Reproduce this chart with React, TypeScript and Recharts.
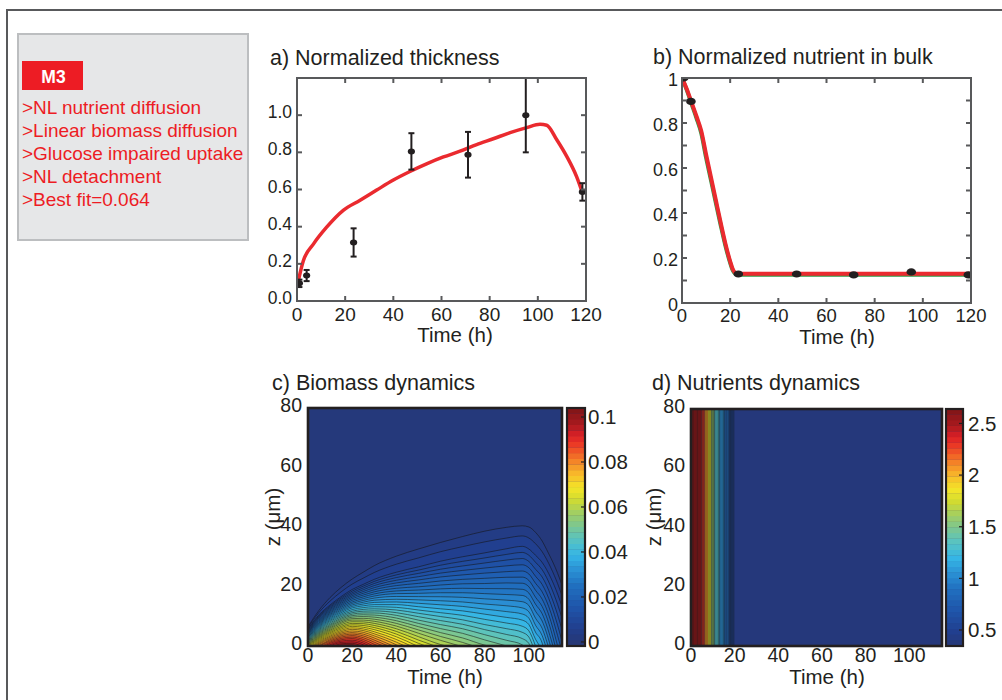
import React from 'react';
import {
  ComposedChart, Line, Area, Scatter, XAxis, YAxis, ErrorBar,
  ReferenceArea, ReferenceLine, CartesianGrid,
} from 'recharts';

const FONT = '"Liberation Sans", Arial, Helvetica, sans-serif';
const INK = '#231f20';
const AXIS_GRAY = '#58595b';
const RED = '#ed1c24';
const LINE_RED = '#ea2a2f';
const LINE_GREEN = '#2f9a45';
const CONTOUR_INK = '#141414';

// ---------------- texts ----------------
const modelName = 'M3';
const modelNotes = ['>NL nutrient diffusion', '>Linear biomass diffusion', '>Glucose impaired uptake', '>NL detachment', '>Best fit=0.064'];
const titleA = 'a) Normalized thickness';
const titleB = 'b) Normalized nutrient in bulk';
const titleC = 'c) Biomass dynamics';
const titleD = 'd) Nutrients dynamics';
const timeLabel = 'Time (h)';
const depthLabel = 'z (\u03bcm)';

// ---------------- panel a : normalized thickness ----------------
const thicknessObsTimes = [1, 4, 23.5, 47.5, 71, 95, 118.5];
const thicknessObsMeans = [0.095, 0.137, 0.315, 0.805, 0.787, 1.0, 0.587];
const thicknessObsErrors = [0.02, 0.03, 0.076, 0.098, 0.123, 0.2, 0.047];
const thicknessFitTimes = [0.5, 2.6, 6.8, 12.3, 19.2, 26.2, 33.1, 40, 46.9, 53.8, 60.8, 67.7, 74.6, 81.5, 88.5, 95.4, 100.9, 103.7, 107.8, 112, 116.1, 118.6];
const thicknessFitValues = [0.106, 0.215, 0.306, 0.397, 0.488, 0.542, 0.597, 0.651, 0.697, 0.738, 0.775, 0.806, 0.842, 0.873, 0.906, 0.933, 0.951, 0.946, 0.869, 0.778, 0.669, 0.579];
const thicknessXTicks = [0, 20, 40, 60, 80, 100, 120];
const thicknessYTicks = [0, 0.2, 0.4, 0.6, 0.8, 1.0];

// ---------------- panel b : normalized nutrient in bulk ----------------
const bulkObsTimes = [0.7, 3.7, 23.4, 47.6, 71.3, 95.2, 118.9];
const bulkObsMeans = [1.0, 0.896, 0.129, 0.129, 0.125, 0.138, 0.125];
const bulkFitTimes = [0, 2, 4, 6, 8, 10, 12, 14, 16, 18, 20, 21, 22, 23, 40, 60, 80, 100, 120];
const bulkFitValues = [1.0, 0.95, 0.89, 0.83, 0.765, 0.66, 0.56, 0.46, 0.36, 0.265, 0.185, 0.152, 0.135, 0.13, 0.13, 0.13, 0.13, 0.13, 0.13];
const bulkAltValues = [1.0, 0.946, 0.884, 0.822, 0.754, 0.646, 0.547, 0.447, 0.349, 0.256, 0.178, 0.147, 0.131, 0.126, 0.126, 0.126, 0.126, 0.126, 0.126];
const bulkXTicks = [0, 20, 40, 60, 80, 100, 120];
const bulkYTicks = [0, 0.1, 0.2, 0.3, 0.4, 0.5, 0.6, 0.7, 0.8, 0.9, 1];

// ---------------- panel c : biomass contours (t [h], z [um]) ----------------
const biomassLevels = [
  0.0025, 0.005, 0.0075, 0.01, 0.0125, 0.015, 0.0175, 0.02, 0.0225, 0.025,
  0.0275, 0.03, 0.0325, 0.035, 0.0375, 0.04, 0.0425, 0.045, 0.0475, 0.05,
  0.0525, 0.055, 0.0575, 0.06, 0.0625, 0.065, 0.0675, 0.07, 0.0725, 0.075,
  0.0775, 0.08, 0.0825, 0.085, 0.0875, 0.09, 0.0925, 0.095, 0.0975,
];
const contour0025 = [[0, 6.5], [5, 12], [10, 16.3], [15, 19.7], [20, 22.5], [25, 24.8], [30, 27], [40, 30.2], [50, 32.6], [60, 34.8], [70, 36.8], [80, 38.6], [90, 39.9], [97, 40.4], [100, 40], [103, 38.2], [106, 35.3], [108, 32.5], [110, 29.5], [112, 26.3], [114, 22.5], [115, 20.5]];
const contour0050 = [[0, 6.2], [5, 11.3], [10, 15.1], [15, 18.2], [20, 20.8], [25, 22.8], [30, 24.7], [40, 27.5], [50, 29.6], [60, 31.7], [70, 33.4], [80, 35], [90, 36.3], [97, 37], [100, 36.3], [103, 34.4], [106, 31.7], [110, 26.2], [113, 21], [115, 16.9]];
const contour0075 = [[0, 5.8], [5, 10.5], [10, 13.8], [15, 16.6], [20, 19], [25, 20.7], [30, 22.4], [40, 24.8], [50, 26.6], [60, 28.5], [70, 30], [80, 31.3], [90, 32.7], [97, 33.5], [100, 32.6], [103, 30.5], [106, 28.1], [110, 22.8], [113, 17.5], [115, 13.3]];
const contour0100 = [[0, 5.55], [5, 10.15], [10, 13.4], [15, 16.15], [20, 18.45], [25, 20.1], [30, 21.7], [40, 23.9], [50, 25.5], [60, 27.15], [70, 28.45], [80, 29.6], [90, 30.8], [97, 31.45], [100, 30.5], [103, 28.15], [106, 25.65], [110, 19.85], [113, 14], [115, 9.4]];
const contour0125 = [[0, 5.3], [5, 9.8], [10, 13], [15, 15.7], [20, 17.9], [25, 19.5], [30, 21], [40, 23], [50, 24.4], [60, 25.8], [70, 26.9], [80, 27.9], [90, 28.9], [97, 29.4], [100, 28.4], [103, 25.8], [106, 23.2], [110, 16.9], [113, 10.5], [115, 5.5]];
const contour0150 = [[0, 5.05], [5, 9.4], [10, 12.6], [15, 15.25], [20, 17.4], [25, 18.9], [30, 20.3], [40, 22.1], [50, 23.3], [60, 24.5], [70, 25.4], [80, 26.2], [90, 26.95], [97, 27.3], [100, 26.3], [103, 23.45], [106, 20.7], [110, 14], [113, 7], [115, 1.6]];
const contour0175 = [[0, 4.8], [5, 9], [10, 12.2], [15, 14.8], [20, 16.9], [25, 18.3], [30, 19.6], [40, 21.2], [50, 22.2], [60, 23.2], [70, 23.9], [80, 24.5], [90, 25], [97, 25.2], [100, 24.2], [103, 21.1], [106, 18.2], [110, 11.1], [113, 3.5], [114.3, 0]];
const contour0200 = [[0, 4.55], [5, 8.65], [10, 11.8], [15, 14.35], [20, 16.4], [25, 17.7], [30, 18.9], [40, 20.3], [50, 21.05], [60, 21.85], [70, 22.4], [80, 22.75], [90, 23.1], [97, 23.15], [100, 22.05], [103, 18.75], [106, 15.75], [110, 8.2], [113, 0]];
const contour0225 = [[0, 4.3], [5, 8.3], [10, 11.4], [15, 13.9], [20, 15.9], [25, 17.1], [30, 18.2], [40, 19.4], [50, 19.9], [60, 20.5], [70, 20.9], [80, 21], [90, 21.2], [97, 21.1], [100, 19.9], [103, 16.4], [106, 13.3], [110, 5.3], [111.9, 0]];
const contour0250 = [[0, 4.05], [5, 7.95], [10, 11], [15, 13.45], [20, 15.35], [25, 16.5], [30, 17.5], [40, 18.5], [50, 18.8], [60, 19.2], [70, 19.4], [80, 19.3], [90, 19.25], [97, 19.05], [100, 17.8], [103, 14.05], [106, 10.85], [110, 2.3], [110.9, 0]];
const contour0275 = [[0, 3.8], [5, 7.6], [10, 10.6], [15, 13], [20, 14.8], [25, 15.9], [30, 16.8], [40, 17.6], [50, 17.7], [60, 17.9], [70, 17.9], [80, 17.6], [90, 17.3], [97, 17], [100, 15.7], [103, 11.7], [106, 8.4], [109.8, 0]];
const contour0300 = [[0, 3.55], [5, 7.25], [10, 10.2], [15, 12.55], [20, 14.3], [25, 15.3], [30, 16.1], [40, 16.65], [50, 16.6], [60, 16.55], [70, 16.35], [80, 15.85], [90, 15.4], [97, 14.9], [100, 13.6], [103, 9.35], [106, 5.95], [108.7, 0]];
const contour0325 = [[0, 3.3], [5, 6.9], [10, 9.8], [15, 12.1], [20, 13.8], [25, 14.7], [30, 15.4], [40, 15.7], [50, 15.5], [60, 15.2], [70, 14.8], [80, 14.1], [90, 13.5], [97, 12.8], [100, 11.5], [103, 7], [106, 3.5], [107.6, 0]];
const contour0350 = [[0, 3.05], [5, 6.55], [10, 9.4], [15, 11.65], [20, 13.3], [25, 14.1], [30, 14.65], [40, 14.8], [50, 14.35], [60, 13.85], [70, 13.3], [80, 12.4], [90, 11.55], [97, 10.75], [100, 9.35], [103, 4.65], [106, 1], [106.4, 0]];
const contour0375 = [[0, 2.8], [5, 6.2], [10, 9], [15, 11.2], [20, 12.8], [25, 13.5], [30, 13.9], [40, 13.9], [50, 13.2], [60, 12.5], [70, 11.8], [80, 10.7], [90, 9.6], [97, 8.7], [100, 7.2], [103, 2.3], [104.9, 0]];
const contour0400 = [[0, 2.55], [5, 5.85], [10, 8.6], [15, 10.75], [20, 12.25], [25, 12.9], [30, 13.2], [40, 13], [50, 12.1], [60, 11.2], [70, 10.3], [80, 8.95], [90, 7.7], [97, 6.65], [100, 5.1], [103, 0]];
const contour0425 = [[0, 2.3], [5, 5.5], [10, 8.2], [15, 10.3], [20, 11.7], [25, 12.3], [30, 12.5], [40, 12.1], [50, 11], [60, 9.9], [70, 8.8], [80, 7.2], [90, 5.8], [97, 4.6], [100, 3], [101.8, 0]];
const contour0450 = [[0, 2.05], [5, 5.15], [10, 7.75], [15, 9.85], [20, 11.2], [25, 11.7], [30, 11.8], [40, 11.2], [50, 9.85], [60, 8.55], [70, 7.3], [80, 5.5], [90, 3.85], [97, 2.5], [100, 0.85], [100.5, 0]];
const contour0475 = [[0, 1.8], [5, 4.8], [10, 7.3], [15, 9.4], [20, 10.7], [25, 11.1], [30, 11.1], [40, 10.3], [50, 8.7], [60, 7.2], [70, 5.8], [80, 3.8], [90, 1.9], [97, 0.4], [97.8, 0]];
const contour0500 = [[0, 1.55], [5, 4.45], [10, 6.9], [15, 8.95], [20, 10.2], [25, 10.5], [30, 10.4], [40, 9.4], [50, 7.6], [60, 5.85], [70, 4.25], [80, 2.05], [90, 0]];
const contour0525 = [[0, 1.3], [5, 4.1], [10, 6.5], [15, 8.5], [20, 9.7], [25, 9.9], [30, 9.7], [40, 8.5], [50, 6.5], [60, 4.5], [70, 2.7], [80, 0.3], [81.7, 0]];
const contour0550 = [[0, 1.05], [5, 3.75], [10, 6.1], [15, 8.05], [20, 9.2], [25, 9.3], [30, 9], [40, 7.6], [50, 5.4], [60, 3.2], [70, 1.2], [75, 0]];
const contour0575 = [[0, 0.8], [5, 3.4], [10, 5.7], [15, 7.6], [20, 8.7], [25, 8.7], [30, 8.3], [40, 6.7], [50, 4.3], [60, 1.9], [68.8, 0]];
const contour0600 = [[0, 0.55], [5, 3.05], [10, 5.3], [15, 7.1], [20, 8.15], [25, 8.1], [30, 7.6], [40, 5.8], [50, 3.15], [60, 0.5], [62.5, 0]];
const contour0625 = [[0, 0.3], [5, 2.7], [10, 4.9], [15, 6.6], [20, 7.6], [25, 7.5], [30, 6.9], [40, 4.9], [50, 2], [57.5, 0]];
const contour0650 = [[0, 0], [5, 2.35], [10, 4.5], [15, 6.15], [20, 7.1], [25, 6.9], [30, 6.2], [40, 4], [50, 0.9], [53.3, 0]];
const contour0675 = [[0.7, 0], [5, 2], [10, 4.1], [15, 5.7], [20, 6.6], [25, 6.3], [30, 5.5], [40, 3.1], [49.4, 0]];
const contour0700 = [[1.5, 0], [5, 1.65], [10, 3.7], [15, 5.25], [20, 6.1], [25, 5.75], [30, 4.8], [40, 2.2], [46.7, 0]];
const contour0725 = [[2.2, 0], [5, 1.3], [10, 3.3], [15, 4.8], [20, 5.6], [25, 5.2], [30, 4.1], [40, 1.3], [43.9, 0]];
const contour0750 = [[2.9, 0], [5, 0.95], [10, 2.9], [15, 4.35], [20, 5.05], [25, 4.6], [30, 3.4], [40, 0.4], [41.1, 0]];
const contour0775 = [[3.7, 0], [5, 0.6], [10, 2.5], [15, 3.9], [20, 4.5], [25, 4], [30, 2.7], [38.6, 0]];
const contour0800 = [[4.4, 0], [5, 0.2], [10, 2.1], [15, 3.45], [20, 4], [25, 3.4], [30, 2], [36.4, 0]];
const contour0825 = [[5.2, 0], [10, 1.7], [15, 3], [20, 3.5], [25, 2.8], [30, 1.3], [34.1, 0]];
const contour0850 = [[6.4, 0], [10, 1.3], [15, 2.55], [20, 3], [25, 2.2], [30, 0.6], [31.8, 0]];
const contour0875 = [[7.5, 0], [10, 0.9], [15, 2.1], [20, 2.5], [25, 1.6], [29.6, 0]];
const contour0900 = [[8.6, 0], [10, 0.45], [15, 1.65], [20, 1.95], [25, 1], [27.9, 0]];
const contour0925 = [[9.8, 0], [15, 1.2], [20, 1.4], [25, 0.4], [26.1, 0]];
const contour0950 = [[11.7, 0], [15, 0.75], [20, 0.9], [24.1, 0]];
const contour0975 = [[13.8, 0], [15, 0.3], [20, 0.4], [21.8, 0]];
const biomassContours = [
  contour0025, contour0050, contour0075, contour0100, contour0125, contour0150, contour0175, contour0200,
  contour0225, contour0250, contour0275, contour0300, contour0325, contour0350, contour0375, contour0400,
  contour0425, contour0450, contour0475, contour0500, contour0525, contour0550, contour0575, contour0600,
  contour0625, contour0650, contour0675, contour0700, contour0725, contour0750, contour0775, contour0800,
  contour0825, contour0850, contour0875, contour0900, contour0925, contour0950, contour0975,
];
const biomassXTicks = [0, 20, 40, 60, 80, 100];
const depthTicks = [0, 20, 40, 60, 80];
const biomassCbarTicks = [0, 0.02, 0.04, 0.06, 0.08, 0.1];
const biomassRange = [-0.0018, 0.104];

// ---------------- panel d : nutrient bands ----------------
const nutrientBandStarts = [0, 4.8, 6.3, 7.8, 9.3, 10.8, 13.1, 15.4, 17.6];
const nutrientBandEnds = [4.8, 6.3, 7.8, 9.3, 10.8, 13.1, 15.4, 17.6, 19.6];
const nutrientBandValues = [2.55, 2.3, 2.05, 1.8, 1.55, 1.3, 1.05, 0.8, 0.55];
const nutrientBackground = 0.37;
const nutrientContourTimes = [0.6, 1.2, 1.8, 2.4, 3.0, 3.6, 4.2, 4.8, 5.3, 5.8, 6.3, 6.8, 7.3, 7.8, 8.3, 8.8, 9.3, 9.8, 10.3, 10.8, 11.4, 12.0, 12.6, 13.1, 13.7, 14.3, 14.9, 15.4, 16.0, 16.5, 17.1, 17.6, 18.1, 18.6, 19.1, 19.6];
const nutrientCbarTicks = [0.5, 1, 1.5, 2, 2.5];
const nutrientRange = [0.345, 2.64];
const colorbarStepCount = 42;

// ---------------- colour map (jet-like, as printed) ----------------
const CMAP: [number, string][] = [
  [0.0, '#263776'], [0.06, '#213f8f'], [0.14, '#1f53a8'], [0.24, '#2070c0'],
  [0.31, '#2b93d6'], [0.37, '#35b6e6'], [0.44, '#5ac3bf'], [0.5, '#7fc78d'],
  [0.56, '#a9d05a'], [0.61, '#d3dc2f'], [0.66, '#f4e528'], [0.72, '#f8b72a'],
  [0.78, '#f37b27'], [0.84, '#ec3d25'], [0.88, '#dc2027'], [0.93, '#a81a1e'],
  [1.0, '#7e1517'],
];
const hexRgb = (h: string) => [1, 3, 5].map((i) => parseInt(h.slice(i, i + 2), 16));
function cmap(f: number): string {
  const x = Math.max(0, Math.min(1, f));
  for (let i = 0; i < CMAP.length - 1; i++) {
    const [a, ca] = CMAP[i];
    const [b, cb] = CMAP[i + 1];
    if (x <= b) {
      const k = (x - a) / (b - a);
      const A = hexRgb(ca);
      const B = hexRgb(cb);
      const c = A.map((v, j) => Math.round(v + (B[j] - v) * k));
      return `rgb(${c[0]},${c[1]},${c[2]})`;
    }
  }
  return CMAP[CMAP.length - 1][1];
}
const biomassColor = (v: number) => cmap(v / biomassRange[1]);
const nutrientColor = (v: number) => cmap((v - nutrientRange[0]) / (nutrientRange[1] - nutrientRange[0]));

// ---------------- derived series ----------------
const thicknessObs = thicknessObsTimes.map((t, i) => ({ t, v: thicknessObsMeans[i], err: thicknessObsErrors[i] }));
const thicknessFit = thicknessFitTimes.map((t, i) => ({ t, v: thicknessFitValues[i] }));
const bulkObs = bulkObsTimes.map((t, i) => ({ t, v: bulkObsMeans[i] }));
const bulkFit = bulkFitTimes.map((t, i) => ({ t, v: bulkFitValues[i] }));
const bulkAlt = bulkFitTimes.map((t, i) => ({ t, v: bulkAltValues[i] }));
const contourSeries = biomassContours.map((pairs) => pairs.map(([t, z]) => ({ t, z })));

// ---------------- tick renderer ----------------
type TickOpts = {
  side: 'bottom' | 'left' | 'right';
  margin: number;
  span?: number;
  len?: number;
  fontSize: number;
  fmt: (v: number) => string;
  show?: (v: number) => boolean;
  dy?: number;
  stroke?: string;
  sw?: number;
};
function tickRenderer(o: TickOpts) {
  return (p: any) => {
    const { x, y, payload } = p;
    const v = Number(payload.value);
    const text = o.show && !o.show(v) ? '' : o.fmt(v);
    const len = o.len ?? 0;
    const st = o.stroke ?? AXIS_GRAY;
    const sw = o.sw ?? 2;
    if (o.side === 'bottom') {
      const ay = y - o.margin;
      return (
        <g>
          {len > 0 && <line x1={x} x2={x} y1={ay} y2={ay - len} stroke={st} strokeWidth={sw} />}
          {len > 0 && o.span ? <line x1={x} x2={x} y1={ay - o.span} y2={ay - o.span + len} stroke={st} strokeWidth={sw} /> : null}
          <text x={x} y={y} textAnchor="middle" fontSize={o.fontSize} fontFamily={FONT} fill={INK}>{text}</text>
        </g>
      );
    }
    if (o.side === 'left') {
      const ax = x + o.margin;
      return (
        <g>
          {len > 0 && <line x1={ax} x2={ax + len} y1={y} y2={y} stroke={st} strokeWidth={sw} />}
          {len > 0 && o.span ? <line x1={ax + o.span} x2={ax + o.span - len} y1={y} y2={y} stroke={st} strokeWidth={sw} /> : null}
          <text x={x} y={y} dy={o.dy ?? o.fontSize * 0.35} textAnchor="end" fontSize={o.fontSize} fontFamily={FONT} fill={INK}>{text}</text>
        </g>
      );
    }
    const ax = x - o.margin;
    return (
      <g>
        {len > 0 && <line x1={ax} x2={ax - len} y1={y} y2={y} stroke={st} strokeWidth={sw} />}
        <text x={x} y={y} dy={o.dy ?? o.fontSize * 0.35} textAnchor="start" fontSize={o.fontSize} fontFamily={FONT} fill={INK}>{text}</text>
      </g>
    );
  };
}

const absStyle = (left: number, top: number): React.CSSProperties => ({ position: 'absolute', left, top });

// ---------------- panels ----------------
function PanelA() {
  return (
    <div style={absStyle(225, 60)}>
      <ComposedChart width={395} height={290} margin={{ top: 18, right: 34, bottom: 19, left: 32 }}>
        <XAxis dataKey="t" type="number" domain={[0, 120]} ticks={thicknessXTicks} interval={0} allowDataOverflow height={30}
          axisLine={false} tickLine={false} tickSize={0} tickMargin={20}
          tick={tickRenderer({ side: 'bottom', margin: 20, span: 223, len: 5, fontSize: 19, fmt: (v) => String(v) })} />
        <YAxis type="number" domain={[0, 1.2]} ticks={thicknessYTicks} interval={0} allowDataOverflow width={40}
          axisLine={false} tickLine={false} tickSize={0} tickMargin={5}
          tick={tickRenderer({ side: 'left', margin: 5, span: 289, len: 5, fontSize: 17.5, dy: 3, fmt: (v) => v.toFixed(1) })} />
        <Line data={thicknessFit} dataKey="v" type="monotone" stroke={LINE_RED} strokeWidth={3.5} dot={false} activeDot={false} isAnimationActive={false} />
        <Scatter data={thicknessObs} dataKey="v" fill={INK} isAnimationActive={false}
          shape={(p: any) => <ellipse cx={p.cx} cy={p.cy} rx={3.6} ry={3} fill={INK} />}>
          <ErrorBar dataKey="err" direction="y" width={3} stroke={INK} strokeWidth={2} />
        </Scatter>
      </ComposedChart>
    </div>
  );
}

function PanelB() {
  return (
    <div style={absStyle(610, 60)}>
      <ComposedChart width={392} height={290} margin={{ top: 18, right: 31, bottom: 17, left: 32 }}>
        <XAxis dataKey="t" type="number" domain={[0, 120]} ticks={bulkXTicks} interval={0} allowDataOverflow height={30}
          axisLine={false} tickLine={false} tickSize={0} tickMargin={19}
          tick={tickRenderer({ side: 'bottom', margin: 19, span: 225, len: 5, fontSize: 18.5, fmt: (v) => String(v) })} />
        <YAxis type="number" domain={[0, 1]} ticks={bulkYTicks} interval={0} allowDataOverflow width={40}
          axisLine={false} tickLine={false} tickSize={0} tickMargin={4}
          tick={tickRenderer({
            side: 'left', margin: 4, span: 289, len: 5, fontSize: 18, dy: 7.5,
            show: (v) => Math.round(v * 10) % 2 === 0,
            fmt: (v) => (v === 0 ? '0' : v === 1 ? '1' : v.toFixed(1)),
          })} />
        <Line data={bulkAlt} dataKey="v" type="monotone" stroke={LINE_GREEN} strokeWidth={4} dot={false} activeDot={false} isAnimationActive={false} />
        <Line data={bulkFit} dataKey="v" type="monotone" stroke={LINE_RED} strokeWidth={4} dot={false} activeDot={false} isAnimationActive={false} />
        <Scatter data={bulkObs} dataKey="v" fill={INK} isAnimationActive={false}
          shape={(p: any) => <ellipse cx={p.cx} cy={p.cy} rx={4.8} ry={3.6} fill={INK} />} />
      </ComposedChart>
    </div>
  );
}

function PanelC() {
  const bg = biomassColor(biomassLevels[0] / 2);
  return (
    <div style={absStyle(250, 395)}>
      <ComposedChart width={320} height={300} margin={{ top: 13, right: 8, bottom: 19, left: 18 }}>
        <CartesianGrid fill={bg} stroke="none" horizontal={false} vertical={false} />
        <XAxis dataKey="t" type="number" domain={[0, 115]} ticks={biomassXTicks} interval={0} allowDataOverflow height={30}
          axisLine={false} tickLine={false} tickSize={0} tickMargin={16}
          tick={tickRenderer({ side: 'bottom', margin: 16, fontSize: 19.5, fmt: (v) => String(v) })} />
        <YAxis type="number" domain={[0, 80]} ticks={depthTicks} interval={0} allowDataOverflow width={40}
          axisLine={false} tickLine={false} tickSize={0} tickMargin={6}
          tick={tickRenderer({ side: 'left', margin: 6, fontSize: 19.5, dy: 4, fmt: (v) => String(v) })} />
        {contourSeries.map((pts, i) => {
          const lo = biomassLevels[i];
          const hi = i + 1 < biomassLevels.length ? biomassLevels[i + 1] : lo + 0.0025;
          return (
            <Area key={i} data={pts} dataKey="z" type="monotone" stroke={CONTOUR_INK} strokeWidth={0.65} strokeOpacity={0.85}
              fill={biomassColor((lo + hi) / 2)} fillOpacity={1} dot={false} activeDot={false} isAnimationActive={false} />
          );
        })}
      </ComposedChart>
    </div>
  );
}

function Colorbar(props: { left: number; top: number; width: number; margin: any; axisWidth: number; range: number[]; ticks: number[]; tickMargin: number; color: (v: number) => string; fmt: (v: number) => string }) {
  const { left, top, width, margin, axisWidth, range, ticks, tickMargin, color, fmt } = props;
  const step = (range[1] - range[0]) / colorbarStepCount;
  const steps = Array.from({ length: colorbarStepCount }, (_, i) => [range[0] + i * step, range[0] + (i + 1) * step]);
  return (
    <div style={absStyle(left, top)}>
      <ComposedChart width={width} height={300} margin={margin}>
        <CartesianGrid fill={color(range[0])} stroke="none" horizontal={false} vertical={false} />
        <XAxis type="number" dataKey="x" domain={[0, 1]} ticks={[0, 1]} allowDataOverflow height={1} tick={false} axisLine={false} tickLine={false} />
        <YAxis orientation="right" type="number" domain={range} ticks={ticks} interval={0} allowDataOverflow width={axisWidth}
          axisLine={false} tickLine={false} tickSize={0} tickMargin={tickMargin}
          tick={tickRenderer({ side: 'right', margin: tickMargin, len: 4, stroke: INK, sw: 1.2, fontSize: 20.5, fmt })} />
        {steps.map(([a, b], i) => (
          <ReferenceArea key={i} x1={0} x2={1} y1={a} y2={b + step * 0.05} fill={color((a + b) / 2)} fillOpacity={1} stroke="none" ifOverflow="extendDomain" />
        ))}
      </ComposedChart>
    </div>
  );
}

function PanelD() {
  const bg = nutrientColor(nutrientBackground);
  return (
    <div style={absStyle(630, 395)}>
      <ComposedChart width={320} height={300} margin={{ top: 14, right: 8, bottom: 19, left: 21 }}>
        <CartesianGrid fill={bg} stroke="none" horizontal={false} vertical={false} />
        <XAxis dataKey="t" type="number" domain={[0, 115]} ticks={biomassXTicks} interval={0} allowDataOverflow height={30}
          axisLine={false} tickLine={false} tickSize={0} tickMargin={16}
          tick={tickRenderer({ side: 'bottom', margin: 16, fontSize: 19.5, fmt: (v) => String(v) })} />
        <YAxis type="number" domain={[0, 80]} ticks={depthTicks} interval={0} allowDataOverflow width={40}
          axisLine={false} tickLine={false} tickSize={0} tickMargin={6}
          tick={tickRenderer({ side: 'left', margin: 6, fontSize: 19.5, dy: 4, fmt: (v) => String(v) })} />
        {nutrientBandValues.map((v, i) => (
          <ReferenceArea key={`b${i}`} x1={nutrientBandStarts[i]} x2={nutrientBandEnds[i]} y1={0} y2={80}
            fill={nutrientColor(v)} fillOpacity={1} stroke="none" ifOverflow="hidden" />
        ))}
        {nutrientContourTimes.map((t, i) => (
          <ReferenceLine key={`l${i}`} x={t} stroke={CONTOUR_INK} strokeWidth={0.9} strokeOpacity={0.6} ifOverflow="hidden" />
        ))}
      </ComposedChart>
    </div>
  );
}

export default function App() {
  return (
    <div style={{ position: 'absolute', left: 0, top: 0, width: 1002, height: 700, background: '#ffffff', overflow: 'hidden', fontFamily: FONT }}>
      <svg width={1002} height={700} style={{ position: 'absolute', left: 0, top: 0 }}>
        <rect x={7} y={10} width={1020} height={720} fill="none" stroke={AXIS_GRAY} strokeWidth={2} />
        <rect x={18} y={34} width={230} height={206} fill="#e6e7e8" stroke="#bcbec0" strokeWidth={2} />
        <rect x={22} y={61} width={61} height={29} fill={RED} />
        <text x={53.5} y={82.5} textAnchor="middle" fontSize={17.5} fontWeight="bold" fill="#ffffff" fontFamily={FONT}>{modelName}</text>
        {modelNotes.map((s, i) => (
          <text key={i} x={22} y={114.3 + i * 22.8} fontSize={19} fill={RED} fontFamily={FONT}>{s}</text>
        ))}
        <text x={270} y={65} fontSize={21.5} fill={INK} fontFamily={FONT}>{titleA}</text>
        <text x={653} y={64} fontSize={21.5} fill={INK} fontFamily={FONT}>{titleB}</text>
        <text x={272} y={390} fontSize={21.5} fill={INK} fontFamily={FONT}>{titleC}</text>
        <text x={652} y={390} fontSize={21.5} fill={INK} fontFamily={FONT}>{titleD}</text>
        <text x={455} y={342} textAnchor="middle" fontSize={20.5} fill={INK} fontFamily={FONT}>{timeLabel}</text>
        <text x={837} y={344} textAnchor="middle" fontSize={20.5} fill={INK} fontFamily={FONT}>{timeLabel}</text>
        <text x={445} y={684} textAnchor="middle" fontSize={20.5} fill={INK} fontFamily={FONT}>{timeLabel}</text>
        <text x={827} y={684} textAnchor="middle" fontSize={20.5} fill={INK} fontFamily={FONT}>{timeLabel}</text>
        <text transform="translate(280,517) rotate(-90)" textAnchor="middle" fontSize={20.5} fill={INK} fontFamily={FONT}>{depthLabel}</text>
        <text transform="translate(661,517) rotate(-90)" textAnchor="middle" fontSize={20.5} fill={INK} fontFamily={FONT}>{depthLabel}</text>
      </svg>
      <PanelA />
      <PanelB />
      <PanelC />
      <Colorbar left={560} top={395} width={80} margin={{ top: 13, right: 15, bottom: 48, left: 7 }} axisWidth={40}
        range={biomassRange} ticks={biomassCbarTicks} tickMargin={3} color={biomassColor} fmt={(v) => String(v)} />
      <PanelD />
      <Colorbar left={940} top={395} width={62} margin={{ top: 14, right: 4, bottom: 48, left: 6 }} axisWidth={35}
        range={nutrientRange} ticks={nutrientCbarTicks} tickMargin={5} color={nutrientColor} fmt={(v) => String(v)} />
      <svg width={1002} height={700} style={{ position: 'absolute', left: 0, top: 0, pointerEvents: 'none' }}>
        <rect x={297} y={78} width={289} height={223} fill="none" stroke={AXIS_GRAY} strokeWidth={2} />
        <rect x={682} y={78} width={289} height={225} fill="none" stroke={AXIS_GRAY} strokeWidth={2} />
        <rect x={308} y={408} width={254} height={238} fill="none" stroke={INK} strokeWidth={2.6} />
        <rect x={567} y={408} width={18} height={238} fill="none" stroke={INK} strokeWidth={2.2} />
        <rect x={691} y={409} width={251} height={237} fill="none" stroke={INK} strokeWidth={2.6} />
        <rect x={946} y={409} width={17} height={237} fill="none" stroke={INK} strokeWidth={2.2} />
      </svg>
    </div>
  );
}
